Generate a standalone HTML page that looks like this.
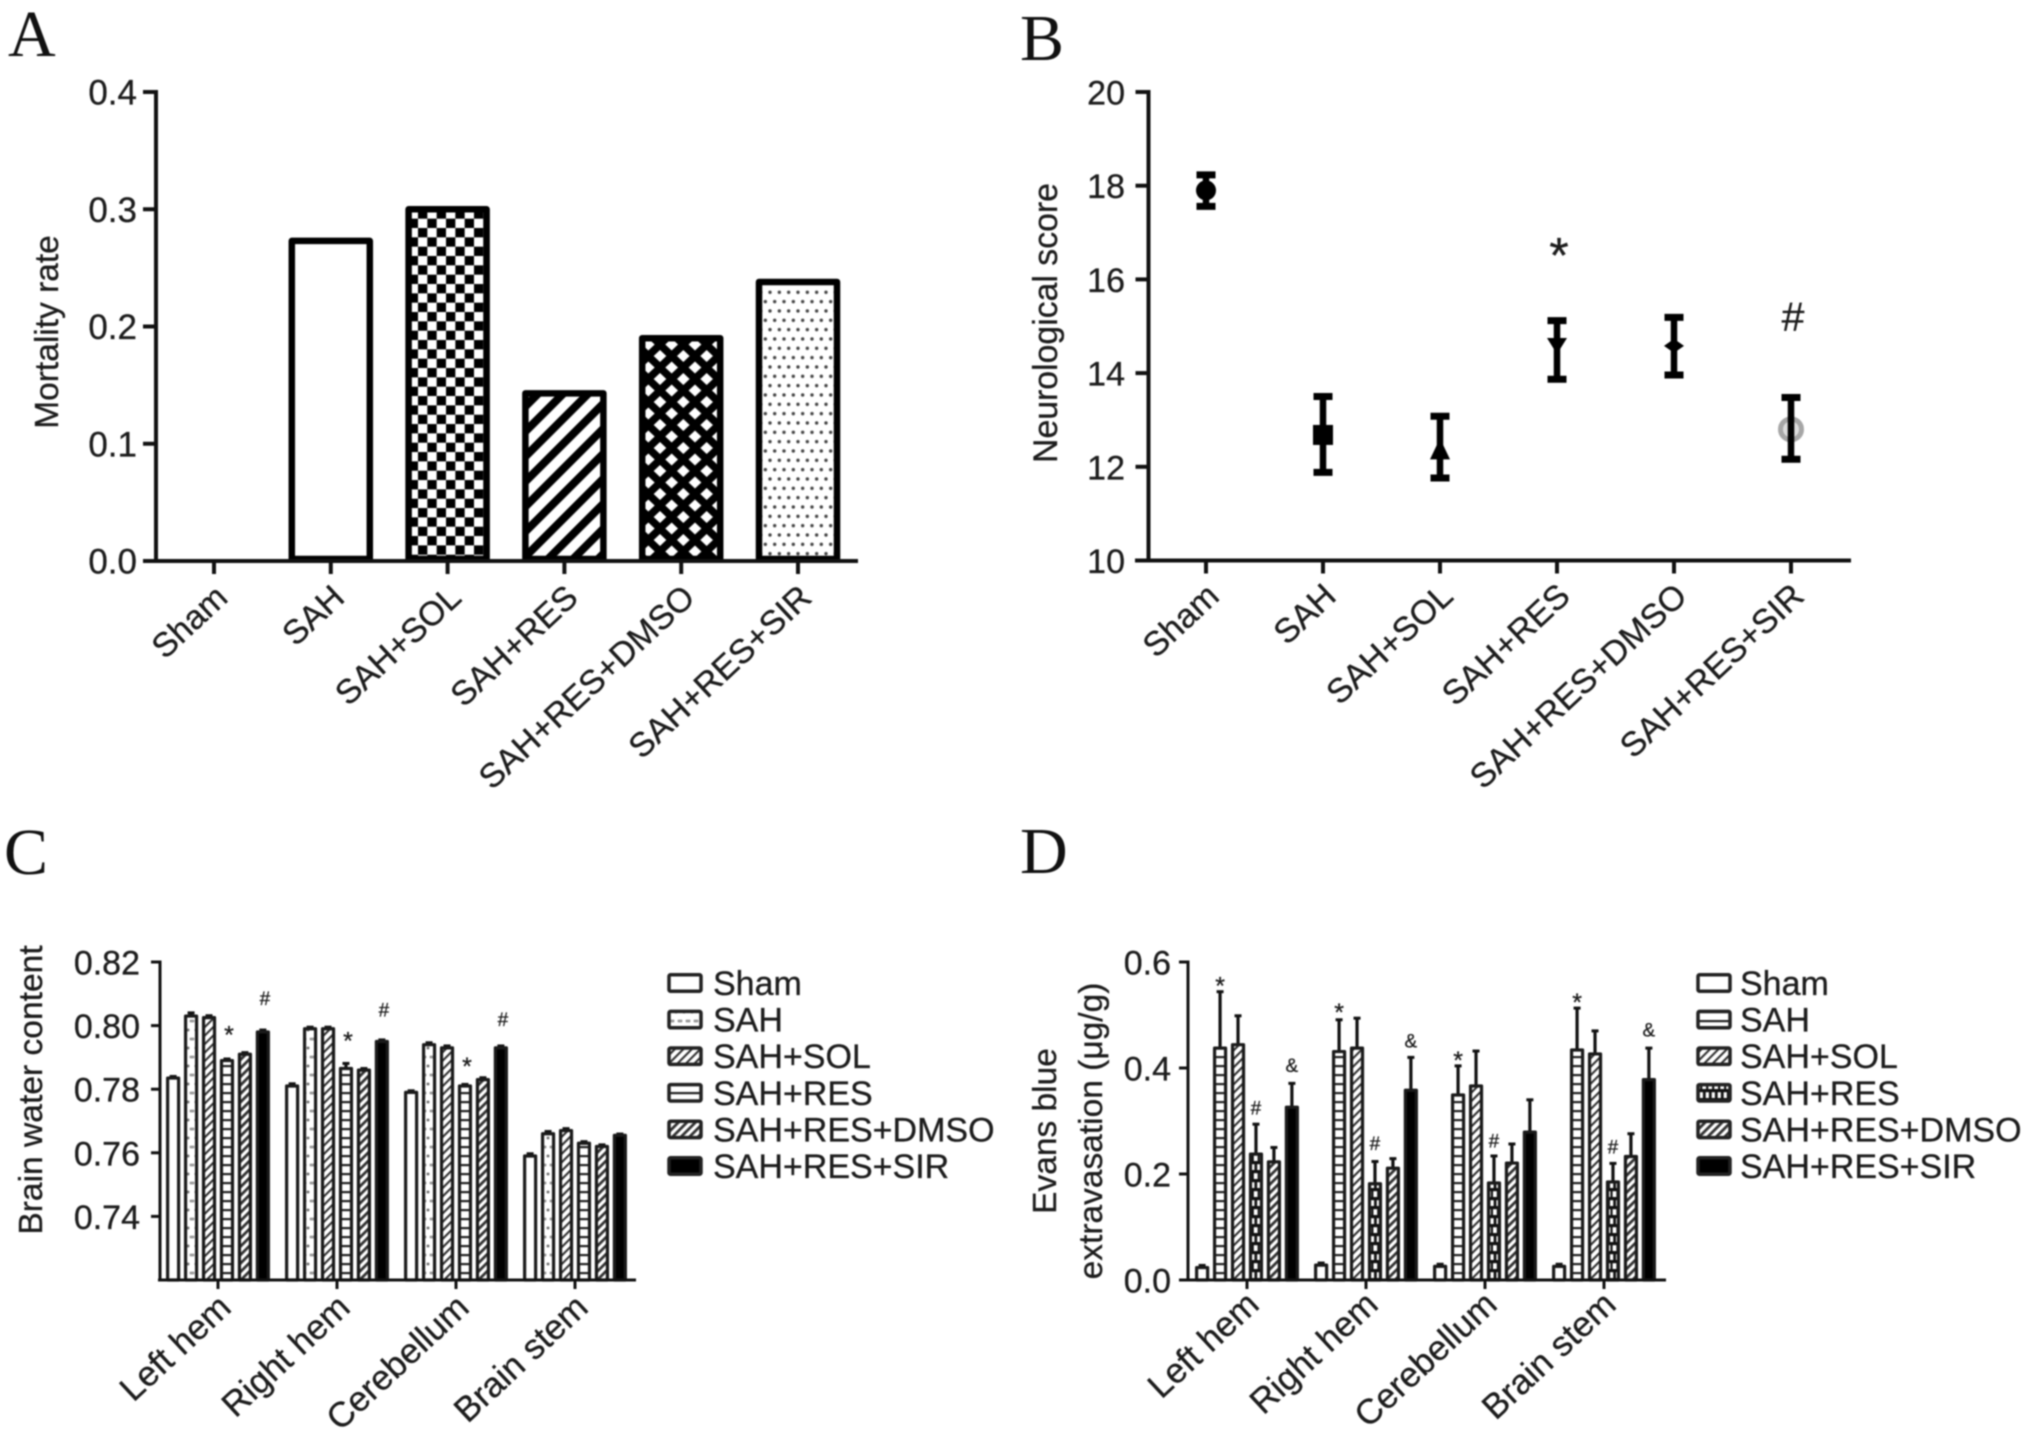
<!DOCTYPE html>
<html lang="en">
<head>
<meta charset="utf-8">
<title>Mortality, neurological score, brain water content and Evans blue extravasation</title>
<style>
html,body{margin:0;padding:0;background:#fff;width:2031px;height:1431px;overflow:hidden}
svg{display:block;filter:blur(0.9px)}
text{font-family:"Liberation Sans",sans-serif;fill:#1c1c1c;stroke:#1c1c1c;stroke-width:.3px}
.letter{font-family:"Liberation Serif",serif;fill:#111;stroke:none}
</style>
</head>
<body>
<svg id="figure" xmlns="http://www.w3.org/2000/svg" width="2031" height="1431" viewBox="0 0 2031 1431">
<defs>
  <pattern id="a-check" patternUnits="userSpaceOnUse" x="418" y="218.67" width="18.67" height="18.67">
    <rect width="18.67" height="18.67" fill="#000"/>
    <rect width="9.33" height="9.33" fill="#fff"/>
    <rect x="9.33" y="9.33" width="9.33" height="9.33" fill="#fff"/>
  </pattern>
  <pattern id="a-diag" patternUnits="userSpaceOnUse" width="17.7" height="17.7" patternTransform="rotate(45)">
    <rect width="17.7" height="17.7" fill="#fff"/>
    <rect width="8" height="17.7" fill="#000"/>
  </pattern>
  <pattern id="a-cross" patternUnits="userSpaceOnUse" x="660" y="356" width="23.33" height="23">
    <rect width="23.33" height="23" fill="#000"/>
    <path d="M11.67 5.5L18 11.5L11.67 17.5L5.3 11.5Z M0 -6L6.3 0L0 6L-6.3 0Z M23.33 -6L29.6 0L23.33 6L17 0Z M0 17L6.3 23L0 29L-6.3 23Z M23.33 17L29.6 23L23.33 29L17 23Z" fill="#fff"/>
  </pattern>
  <pattern id="a-dots" patternUnits="userSpaceOnUse" x="770" y="292.3" width="9.33" height="18.67">
    <rect width="9.33" height="18.67" fill="#fff"/>
    <circle cx="0" cy="0" r="1.7" fill="#444"/>
    <circle cx="9.33" cy="0" r="1.7" fill="#444"/>
    <circle cx="0" cy="18.67" r="1.7" fill="#444"/>
    <circle cx="9.33" cy="18.67" r="1.7" fill="#444"/>
    <circle cx="4.67" cy="9.33" r="1.7" fill="#444"/>
  </pattern>
  <pattern id="p-dots" patternUnits="userSpaceOnUse" width="8" height="18">
    <rect width="8" height="18" fill="#fff"/>
    <circle cx="4" cy="4" r="1.5" fill="#777"/>
    <circle cx="1" cy="13" r="1.5" fill="#999"/>
    <circle cx="7" cy="13" r="1.5" fill="#999"/>
  </pattern>
  <pattern id="p-diag" patternUnits="userSpaceOnUse" width="6" height="6" patternTransform="rotate(45)">
    <rect width="6" height="6" fill="#fff"/>
    <rect width="2.1" height="6" fill="#333"/>
  </pattern>
  <pattern id="p-diag-dense" patternUnits="userSpaceOnUse" width="6" height="6" patternTransform="rotate(45)">
    <rect width="6" height="6" fill="#fff"/>
    <rect width="2.8" height="6" fill="#333"/>
  </pattern>
  <pattern id="p-hlines" patternUnits="userSpaceOnUse" width="9" height="9">
    <rect width="9" height="9" fill="#fff"/>
    <rect y="3" width="9" height="2.2" fill="#222"/>
  </pattern>
  <pattern id="p-brick" patternUnits="userSpaceOnUse" width="5.98" height="18">
    <rect width="5.98" height="18" fill="#fff"/>
    <rect y="0" width="5.98" height="3.2" fill="#111"/>
    <rect y="9" width="5.98" height="3.2" fill="#111"/>
    <rect x="1.8" y="0" width="2.2" height="9" fill="#111"/>
    <rect x="0" y="9" width="1.4" height="9" fill="#111"/>
    <rect x="4.6" y="9" width="1.4" height="9" fill="#111"/>
  </pattern>
</defs>

<text class="letter" x="8" y="56" font-size="66">A</text>
<text class="letter" x="1020" y="60" font-size="66">B</text>
<text class="letter" x="4" y="874" font-size="66">C</text>
<text class="letter" x="1020" y="873" font-size="66">D</text>

<text transform="translate(58 332) rotate(-90)" text-anchor="middle" font-size="33.5">Mortality rate</text>
<text transform="translate(1057 323) rotate(-90)" text-anchor="middle" font-size="33.8">Neurological score</text>
<text transform="translate(42 1090) rotate(-90)" text-anchor="middle" font-size="33.6">Brain water content</text>
<text transform="translate(1056 1131) rotate(-90)" text-anchor="middle" font-size="33.5">Evans blue</text>
<text transform="translate(1102 1131) rotate(-90)" text-anchor="middle" font-size="33.5">extravasation (μg/g)</text>

<g id="panel-a"></g>
<g id="panel-b"></g>
<g id="panel-c"></g>
<g id="panel-d"></g>
</svg>

<script>
/* Panel A */
const aCategories = ['Sham', 'SAH', 'SAH+SOL', 'SAH+RES', 'SAH+RES+DMSO', 'SAH+RES+SIR'];
const aValues = [0, 0.273, 0.3, 0.143, 0.19, 0.238];
const aTickLabels = ['0.0', '0.1', '0.2', '0.3', '0.4'];

/* Panel B */
const bCategories = ['Sham', 'SAH', 'SAH+SOL', 'SAH+RES', 'SAH+RES+DMSO', 'SAH+RES+SIR'];
const bMeans = [17.9, 12.68, 12.35, 14.6, 14.58, 12.8];
const bUpper = [18.23, 13.5, 13.08, 15.12, 15.19, 13.48];
const bLower = [17.56, 11.88, 11.76, 13.87, 13.96, 12.16];
const bTickLabels = ['10', '12', '14', '16', '18', '20'];
const bMarkSymbols = ['*', '#'];
const bMarkCategory = [3, 5];
const bMarkValues = [16.76, 15.22];

/* Panel C */
const cCategories = ['Left hem', 'Right hem', 'Cerebellum', 'Brain stem'];
const cSeriesNames = ['Sham', 'SAH', 'SAH+SOL', 'SAH+RES', 'SAH+RES+DMSO', 'SAH+RES+SIR'];
const cSham = [0.7835, 0.781, 0.779, 0.759];
const cSah = [0.803, 0.799, 0.794, 0.766];
const cSol = [0.8025, 0.799, 0.793, 0.767];
const cRes = [0.789, 0.7865, 0.781, 0.763];
const cDmso = [0.791, 0.786, 0.783, 0.762];
const cSir = [0.798, 0.795, 0.793, 0.7655];
const cShamErr = [0.0005, 0.0007, 0.0005, 0.0007];
const cSahErr = [0.001, 0.0005, 0.0006, 0.0007];
const cSolErr = [0.0006, 0.0005, 0.0006, 0.0006];
const cResErr = [0.0005, 0.0016, 0.0005, 0.0005];
const cDmsoErr = [0.0005, 0.0005, 0.0006, 0.0005];
const cSirErr = [0.0006, 0.0005, 0.0006, 0.0004];
const cTickLabels = ['0.74', '0.76', '0.78', '0.80', '0.82'];
const cMarkSymbols = ['*', '#', '*', '#', '*', '#'];
const cMarkGroups = [0, 0, 1, 1, 2, 2];
const cMarkSeries = [3, 5, 3, 5, 3, 5];
const cMarkValues = [0.7989, 0.8085, 0.797, 0.8049, 0.7889, 0.8019];

/* Panel D */
const dCategories = ['Left hem', 'Right hem', 'Cerebellum', 'Brain stem'];
const dSeriesNames = ['Sham', 'SAH', 'SAH+SOL', 'SAH+RES', 'SAH+RES+DMSO', 'SAH+RES+SIR'];
const dSham = [0.0235, 0.028, 0.0257, 0.0257];
const dSah = [0.4375, 0.431, 0.349, 0.434];
const dSol = [0.444, 0.4375, 0.366, 0.4265];
const dRes = [0.2375, 0.1816, 0.183, 0.185];
const dDmso = [0.223, 0.211, 0.2206, 0.233];
const dSir = [0.326, 0.358, 0.279, 0.378];
const dShamErr = [0.004, 0.004, 0.004, 0.004];
const dSahErr = [0.1065, 0.06, 0.055, 0.079];
const dSolErr = [0.0545, 0.0565, 0.066, 0.0435];
const dResErr = [0.0565, 0.042, 0.051, 0.035];
const dDmsoErr = [0.027, 0.018, 0.036, 0.043];
const dSirErr = [0.045, 0.062, 0.061, 0.0595];
const dTickLabels = ['0.0', '0.2', '0.4', '0.6'];
const dMarkSymbols = ['*', '#', '&', '*', '#', '&', '*', '#', '*', '#', '&'];
const dMarkGroups = [0, 0, 0, 1, 1, 1, 2, 2, 3, 3, 3];
const dMarkSeries = [1, 3, 5, 1, 3, 5, 1, 3, 1, 3, 5];
const dMarkValues = [0.566, 0.325, 0.405, 0.5157, 0.2575, 0.451, 0.425, 0.263, 0.534, 0.251, 0.472];

const SVG_NS = 'http://www.w3.org/2000/svg';

function node(parent, tag, attrs) {
  const n = document.createElementNS(SVG_NS, tag);
  for (const k in attrs) n.setAttribute(k, attrs[k]);
  parent.appendChild(n);
  return n;
}
function linear(d0, d1, r0, r1) {
  return function (v) { return r0 + (v - d0) * (r1 - r0) / (d1 - d0); };
}
function slug(s) { return String(s).toLowerCase().replace(/[^a-z0-9]+/g, '-'); }

function drawYAxis(g, cfg) {
  const line = node(g, 'line', { x1: cfg.x, x2: cfg.x, y1: cfg.y(cfg.min) + cfg.width / 2, y2: cfg.y(cfg.max) - cfg.width / 2, stroke: '#111', 'stroke-width': cfg.width });
  
  
  cfg.labels.forEach(function (lab) {
    const v = Number(lab);
    const tick = node(g, 'line', { x1: cfg.x - cfg.tick, x2: cfg.x, y1: cfg.y(v), y2: cfg.y(v), stroke: '#111', 'stroke-width': cfg.width });
    
    
    const t = node(g, 'text', { x: cfg.labelX, y: cfg.y(v) + 12.5, 'text-anchor': 'end', 'font-size': cfg.font });
    t.textContent = lab;
    
    
  });
}

function drawXAxis(g, cfg) {
  const line = node(g, 'line', { x1: cfg.x0, x2: cfg.x1, y1: cfg.y, y2: cfg.y, stroke: '#111', 'stroke-width': cfg.width });
  
  
  cfg.categories.forEach(function (c, i) {
    const x = cfg.xAt(i);
    const tick = node(g, 'line', { x1: x, x2: x, y1: cfg.y, y2: cfg.y + cfg.tick, stroke: '#111', 'stroke-width': cfg.width });
    
    
    const t = node(g, 'text', { transform: 'translate(' + (x + cfg.dx) + ' ' + (cfg.y + cfg.dy) + ') rotate(-43)', 'text-anchor': 'end', 'font-size': cfg.font });
    t.textContent = c;
    
    
  });
}

function drawMark(g, symbol, x, y, size) {
  const off = symbol === '*' ? 0.57 : 0.35;
  const t = node(g, 'text', { x: x, y: y + off * size, 'text-anchor': 'middle', 'font-size': size, fill: '#222' });
  t.textContent = symbol;
  
  
}

/* ---------- Panel A ---------- */
(function () {
  const g = document.getElementById('panel-a');
  const fills = ['#fff', '#fff', 'url(#a-check)', 'url(#a-diag)', 'url(#a-cross)', 'url(#a-dots)'];
  const y = linear(0, 0.4, 561, 92);
  const xAt = linear(0, 5, 214, 798);
  aValues.forEach(function (v, i) {
    const cx = xAt(i);
    const r = node(g, 'rect', { x: cx - 39, y: y(v), width: 78, height: Math.max(0, 559 - y(v)), fill: fills[i], stroke: v > 0 ? '#000' : 'none', 'stroke-width': 6.5, 'stroke-linejoin': 'round' });
    
    
  });
  drawYAxis(g, { x: 156, y: y, min: 0, max: 0.4, width: 4, tick: 13, labels: aTickLabels, labelX: 137, font: 35 });
  drawXAxis(g, { x0: 143, x1: 858, y: 561, width: 4, tick: 13, categories: aCategories, xAt: xAt, dx: 15.5, dy: 39, font: 33.8 });
})();

/* ---------- Panel B ---------- */
(function () {
  const g = document.getElementById('panel-b');
  const y = linear(10, 20, 560.5, 92);
  const xAt = linear(0, 5, 1206, 1791);
  const S = 10;

  bMeans.forEach(function (m, i) {
    const x = xAt(i), cy = y(m);
    if (i === 5) {
      const halo = node(g, 'circle', { cx: x, cy: cy, r: 10.5, fill: '#ddd', stroke: '#a6a6a6', 'stroke-width': 5 });
      
      
    }
    const stem = node(g, 'line', { x1: x, x2: x, y1: y(bUpper[i]), y2: y(bLower[i]), stroke: '#000', 'stroke-width': 6.5 });
    
    
    const capTop = node(g, 'line', { x1: x - 9.5, x2: x + 9.5, y1: y(bUpper[i]), y2: y(bUpper[i]), stroke: '#000', 'stroke-width': 7 });
    
    
    const capBot = node(g, 'line', { x1: x - 9.5, x2: x + 9.5, y1: y(bLower[i]), y2: y(bLower[i]), stroke: '#000', 'stroke-width': 7 });
    
    
    if (i === 5) return;
    let mark;
    if (i === 0) mark = node(g, 'circle', { cx: x, cy: cy, r: S });
    else if (i === 1) mark = node(g, 'rect', { x: x - S, y: cy - S, width: 2 * S, height: 2 * S });
    else {
      const pts = i === 2 ? [[x, cy - S - 2], [x + S, cy + S - 1], [x - S, cy + S - 1]]
        : i === 3 ? [[x - S, cy - 7], [x + S, cy - 7], [x, cy + 9]]
        : [[x, cy - 7], [x + S, cy], [x, cy + 7], [x - S, cy]];
      mark = node(g, 'polygon', { points: pts.map(function (p) { return p.join(','); }).join(' ') });
    }
    mark.setAttribute('fill', '#000');
    
    
  });

  bMarkSymbols.forEach(function (s, i) {
    drawMark(g, s, xAt(bMarkCategory[i]) + 2, y(bMarkValues[i]), s === '*' ? 50 : 41);
  });
  drawYAxis(g, { x: 1148.5, y: y, min: 10, max: 20, width: 4, tick: 13, labels: bTickLabels, labelX: 1125, font: 34 });
  drawXAxis(g, { x0: 1135, x1: 1851, y: 560.5, width: 4, tick: 13, categories: bCategories, xAt: xAt, dx: 15, dy: 38, font: 34 });
})();

/* ---------- Grouped bars (C, D) ---------- */
function drawGrouped(g, cfg) {
  cfg.series.forEach(function (vals, s) {
    vals.forEach(function (v, c) {
      const cx = cfg.xGroup(c) + (s - 2.5) * 17.95;
      const top = cfg.y(v);
      const errY = cfg.y(v + cfg.errors[s][c]);
      const stem = node(g, 'line', { x1: cx, x2: cx, y1: top, y2: errY, stroke: '#111', 'stroke-width': 3.2 });
      
      
      const cap = node(g, 'line', { x1: cx - 3.5, x2: cx + 3.5, y1: errY, y2: errY, stroke: '#111', 'stroke-width': 3 });
      
      
      const r = node(g, 'rect', { x: cx - 5.5, y: top, width: 11, height: cfg.base - top, fill: cfg.fills[s], stroke: '#1a1a1a', 'stroke-width': 3.2, 'stroke-linejoin': 'round' });
      
      
    });
  });
}

function drawLegend(g, cfg) {
  cfg.names.forEach(function (name, i) {
    const cy = 983 + i * 36.6;
    const swatch = node(g, 'rect', { x: cfg.x + 2, y: cy - 8.2, width: 32, height: 16.4, rx: 1.5, fill: cfg.fills[i], stroke: '#222', 'stroke-width': 3.5 });
    
    
    const t = node(g, 'text', { x: cfg.textX, y: cy + 12, 'font-size': 34 });
    t.textContent = name;
    
    
  });
}

/* ---------- Panel C ---------- */
(function () {
  const g = document.getElementById('panel-c');
  const y = linear(0.72, 0.82, 1280, 962);
  const xGroup = linear(0, 3, 218, 575);
  const fills = ['#fff', 'url(#p-dots)', 'url(#p-diag)', 'url(#p-hlines)', 'url(#p-diag-dense)', '#000'];
  drawGrouped(g, {
    series: [cSham, cSah, cSol, cRes, cDmso, cSir],
    errors: [cShamErr, cSahErr, cSolErr, cResErr, cDmsoErr, cSirErr],
    names: cSeriesNames, categories: cCategories, fills: fills, xGroup: xGroup, y: y, base: 1280
  });
  cMarkSymbols.forEach(function (s, i) {
    const x = xGroup(cMarkGroups[i]) + (cMarkSeries[i] - 2.5) * 17.95 + 2;
    drawMark(g, s, x, y(cMarkValues[i]), s === '*' ? 25 : 19);
  });
  drawYAxis(g, { x: 160, y: y, min: 0.72, max: 0.82, width: 3, tick: 9, labels: cTickLabels, labelX: 140, font: 34 });
  drawXAxis(g, { x0: 158, x1: 636, y: 1280, width: 3, tick: 9, categories: cCategories, xAt: xGroup, dx: 15, dy: 30, font: 35 });
  drawLegend(g, { names: cSeriesNames, fills: fills, x: 667, textX: 713 });
})();

/* ---------- Panel D ---------- */
(function () {
  const g = document.getElementById('panel-d');
  const y = linear(0, 0.6, 1280, 962);
  const xGroup = linear(0, 3, 1247, 1604);
  const fills = ['#fff', 'url(#p-hlines)', 'url(#p-diag)', 'url(#p-brick)', 'url(#p-diag-dense)', '#000'];
  drawGrouped(g, {
    series: [dSham, dSah, dSol, dRes, dDmso, dSir],
    errors: [dShamErr, dSahErr, dSolErr, dResErr, dDmsoErr, dSirErr],
    names: dSeriesNames, categories: dCategories, fills: fills, xGroup: xGroup, y: y, base: 1280
  });
  dMarkSymbols.forEach(function (s, i) {
    const x = xGroup(dMarkGroups[i]) + (dMarkSeries[i] - 2.5) * 17.95;
    drawMark(g, s, x, y(dMarkValues[i]), s === '*' ? 25 : 19);
  });
  drawYAxis(g, { x: 1188, y: y, min: 0, max: 0.6, width: 3, tick: 9, labels: dTickLabels, labelX: 1171, font: 34 });
  drawXAxis(g, { x0: 1180, x1: 1666, y: 1280, width: 3, tick: 9, categories: dCategories, xAt: xGroup, dx: 14, dy: 27, font: 35 });
  drawLegend(g, { names: dSeriesNames, fills: fills, x: 1696, textX: 1740 });
})();
</script>
</body>
</html>
